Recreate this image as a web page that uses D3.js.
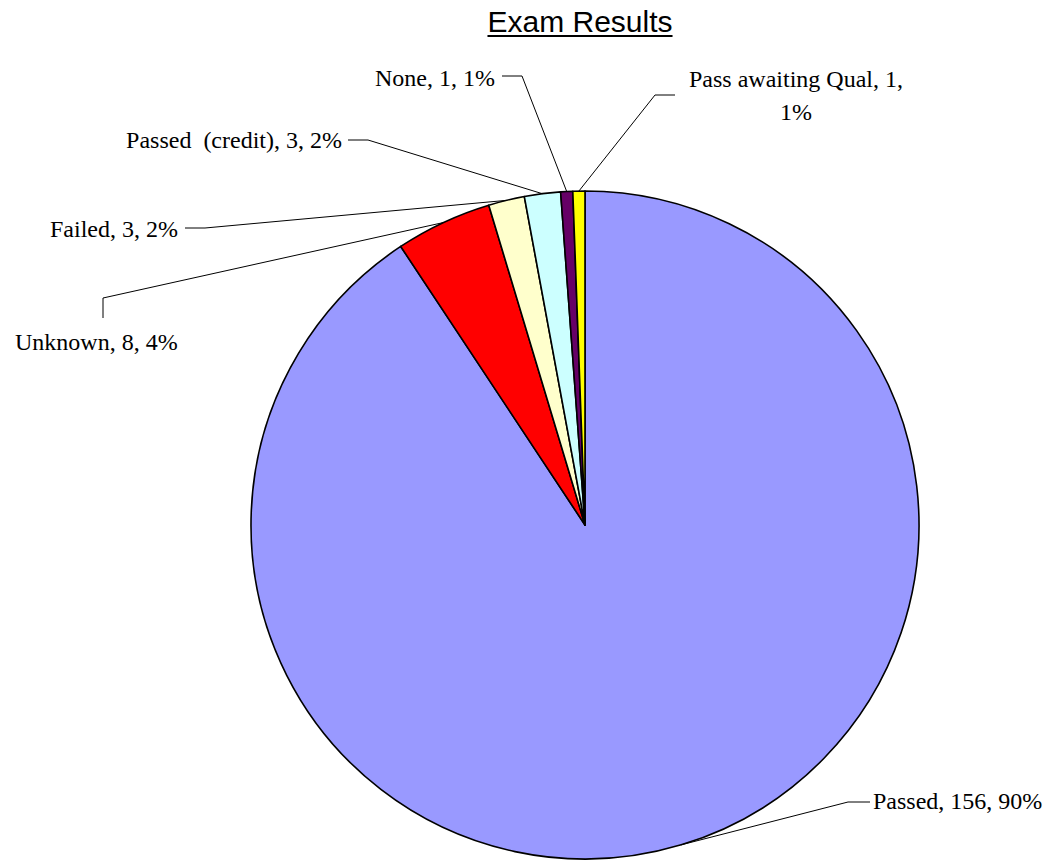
<!DOCTYPE html>
<html>
<head>
<meta charset="utf-8">
<script src="https://cdn.jsdelivr.net/npm/d3@7"></script>
<style>
  body { margin: 0; background: #fff; }
  .lbl { font-family: "Liberation Serif", "Times New Roman", serif; font-size: 24px; fill: #000; }
  .ttl { font-family: "Liberation Sans", Arial, sans-serif; font-size: 30px; fill: #000; }
</style>
</head>
<body>
<svg id="chart" width="1061" height="860"></svg>
<script>
// data
var categories = ['Passed', 'Unknown', 'Failed', 'Passed  (credit)', 'None', 'Pass awaiting Qual'];
var counts = [156, 8, 3, 3, 1, 1];
var shares = ['90%', '4%', '2%', '2%', '1%', '1%'];
var colours = ['#9999FF', '#FF0000', '#FFFFCC', '#CCFFFF', '#660066', '#FFFF00'];

// where each label sits: text anchor, baseline(s), and the short horizontal stub of the leader
var labelPos = [
  {x: 873, y: [809], anchor: 'start', stub: [[870, 802], [848, 802]]},
  {x: 15, y: [350], anchor: 'start', stub: [[103, 318], [103, 298]]},
  {x: 178, y: [237], anchor: 'end', stub: [[185, 228], [205, 228]]},
  {x: 342, y: [148], anchor: 'end', stub: [[348, 140], [368, 140]]},
  {x: 495, y: [86], anchor: 'end', stub: [[502, 76], [522, 76]]},
  {x: 796, y: [87, 120], anchor: 'middle', stub: [[675, 95], [655, 95]]}
];

var svg = d3.select('#chart');
var cx = 585, cy = 525, r = 334;

// title
var title = svg.append('text').attr('class', 'ttl')
  .attr('x', 580).attr('y', 32).attr('text-anchor', 'middle').text('Exam Results');
var tb = title.node().getBBox();
svg.append('line').attr('x1', tb.x).attr('x2', tb.x + tb.width)
  .attr('y1', 36).attr('y2', 36).attr('stroke', '#000').attr('stroke-width', 2);

var pie = d3.pie().sort(null).startAngle(0).endAngle(2 * Math.PI);
var arcs = pie(counts);
var arc = d3.arc().innerRadius(0).outerRadius(r);
var rim = d3.arc().innerRadius(r).outerRadius(r);

var g = svg.append('g').attr('transform', 'translate(' + cx + ',' + cy + ')');
g.selectAll('path').data(arcs).enter().append('path')
  .attr('d', arc)
  .attr('fill', function(d, i) { return colours[i]; })
  .attr('stroke', '#000').attr('stroke-width', 1.6).attr('stroke-linejoin', 'round');

// leader lines
arcs.forEach(function(d, i) {
  var p = rim.centroid(d);
  var lp = labelPos[i];
  var pts = [lp.stub[0], lp.stub[1], [cx + p[0], cy + p[1]]];
  svg.append('path')
    .attr('d', d3.line()(pts))
    .attr('fill', 'none').attr('stroke', '#000').attr('stroke-width', 1);
});

// labels
categories.forEach(function(name, i) {
  var lp = labelPos[i];
  var t = svg.append('text').attr('class', 'lbl').attr('text-anchor', lp.anchor);
  var full = name + ', ' + counts[i] + ', ' + shares[i];
  if (lp.y.length > 1) {
    t.append('tspan').attr('x', lp.x).attr('y', lp.y[0]).text(name + ', ' + counts[i] + ',');
    t.append('tspan').attr('x', lp.x).attr('y', lp.y[1]).text(shares[i]);
  } else {
    t.attr('x', lp.x).attr('y', lp.y[0]).attr('xml:space', 'preserve').style('white-space', 'pre').text(full);
  }
});
</script>
</body>
</html>
